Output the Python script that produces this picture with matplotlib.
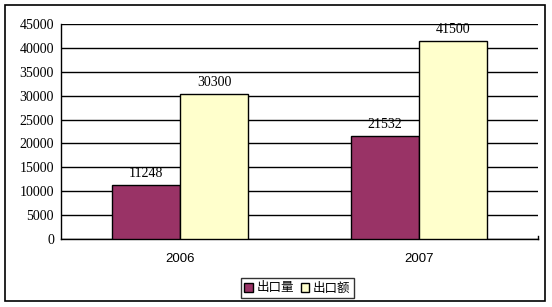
import matplotlib.pyplot as plt
from matplotlib.patches import Rectangle
import numpy as np

years = ["2006", "2007"]
volume = [11248, 21532]
value = [30300, 41500]
series_names = ["出口量", "出口额"]
yticks = list(range(0, 45001, 5000))

W, H = 552, 307
fig = plt.figure(figsize=(W / 100, H / 100), dpi=100)

# outer frame of the chart
fig.patches.append(Rectangle((5 / W, 1 - 301 / H), 540 / W, 296 / H,
                             transform=fig.transFigure, fill=False,
                             edgecolor="black", linewidth=1.2))

ax = fig.add_axes([61 / W, 1 - 239 / H, 477 / W, 215 / H])

x = np.arange(len(years))
bw = 0.286
b1 = ax.bar(x - bw / 2, volume, bw, color="#993366", edgecolor="black",
            linewidth=1, label=series_names[0], zorder=3)
b2 = ax.bar(x + bw / 2, value, bw, color="#FFFFCC", edgecolor="black",
            linewidth=1, label=series_names[1], zorder=3)

for bars in (b1, b2):
    for rect in bars:
        h = rect.get_height()
        ax.text(rect.get_x() + rect.get_width() / 2, h + 1000, f"{h:.0f}",
                ha="center", va="bottom", fontsize=10,
                family="Liberation Serif")

ax.set_xlim(-0.5, 1.5)
ax.set_ylim(0, 45000)
ax.set_yticks(yticks)
ax.set_yticklabels([str(t) for t in yticks], family="Liberation Serif",
                   fontsize=10)
ax.set_xticks(x)
ax.set_xticklabels(years, family="Liberation Sans", fontsize=9.5)
ax.tick_params(axis="both", length=0, pad=5)
ax.tick_params(axis="x", pad=10)

# small end mark at the right of the category axis
ax.plot([1.5, 1.5], [0, 700], color="black", linewidth=1, clip_on=False)

ax.yaxis.grid(True, color="black", linewidth=1)
ax.set_axisbelow(True)
ax.spines["top"].set_visible(False)
ax.spines["right"].set_visible(False)
ax.spines["left"].set_linewidth(1)
ax.spines["bottom"].set_linewidth(1)

leg = fig.legend(loc="center", bbox_to_anchor=(297.5 / W, 1 - 288 / H),
                 ncol=2, frameon=True, fancybox=False, edgecolor="black",
                 prop={"family": ["Noto Sans CJK SC", "DejaVu Sans"], "size": 9},
                 handlelength=0.7, handleheight=0.7, handletextpad=0.3,
                 columnspacing=0.5, borderpad=0.3, borderaxespad=0)
leg.get_frame().set_linewidth(1)

fig.savefig("out.png", dpi=100)
